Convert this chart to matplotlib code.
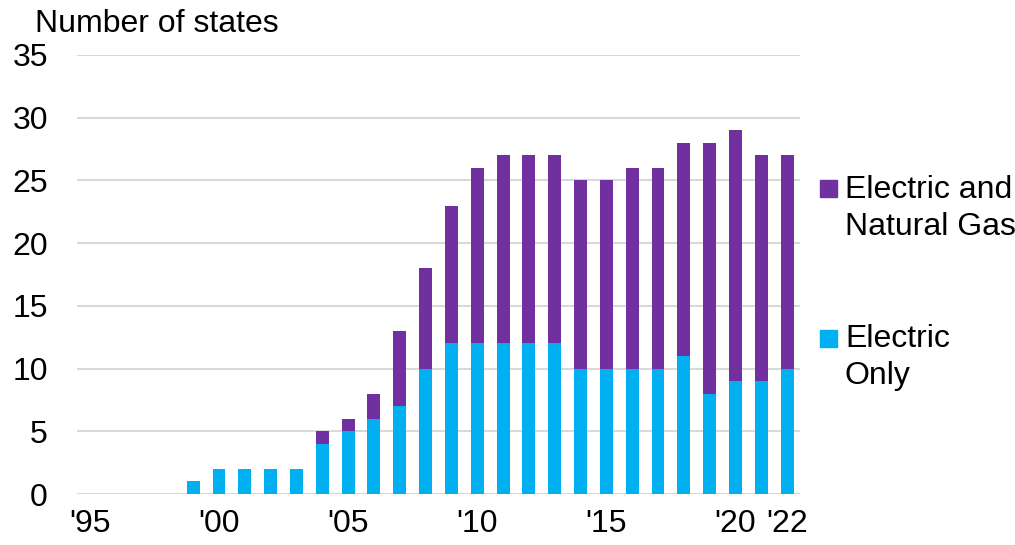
import matplotlib
matplotlib.use("Agg")
import matplotlib.pyplot as plt
from matplotlib.patches import Rectangle

plt.rcParams['font.family'] = ['Liberation Sans', 'DejaVu Sans']

years = list(range(1995, 2023))
electric_only = [0, 0, 0, 0, 1, 2, 2, 2, 2, 4, 5, 6, 7, 10, 12, 12, 12, 12, 12, 10, 10, 10, 10, 11, 8, 9, 9, 10]
electric_gas = [0, 0, 0, 0, 0, 0, 0, 0, 0, 1, 1, 2, 6, 8, 11, 14, 15, 15, 15, 15, 15, 16, 16, 17, 20, 20, 18, 17]
tick_years = [1995, 2000, 2005, 2010, 2015, 2020, 2022]
tick_labels = ["'95", "'00", "'05", "'10", "'15", "'20", "'22"]

BLUE = '#00B0F0'
PURPLE = '#7030A0'
FS = 23

fig = plt.figure(figsize=(10.15, 5.45), dpi=100)
ax = fig.add_axes([77/1015, 1-494/545, (800-77)/1015, (494-55)/545])

x = list(range(len(years)))
ax.bar(x, electric_only, width=0.5, color=BLUE, zorder=3)
ax.bar(x, electric_gas, width=0.5, bottom=electric_only, color=PURPLE, zorder=3)

ax.set_xlim(-0.5, len(years) - 0.5)
ax.set_ylim(0, 35)
ax.set_yticks(range(0, 36, 5))
ax.set_xticks([years.index(y) for y in tick_years])
ax.set_xticklabels(tick_labels)
ax.tick_params(axis='both', length=0, labelsize=FS)
ax.tick_params(axis='y', pad=21)
ax.tick_params(axis='x', pad=11)
for s in ax.spines.values():
    s.set_visible(False)
ax.yaxis.grid(True, color='#D9D9D9', linewidth=1.5, zorder=0)
ax.set_axisbelow(True)

fig.text(35/1015, 1-32/545, 'Number of states', fontsize=FS, ha='left', va='baseline')

# legend
def fy(y):
    return 1 - y/545

fig.add_artist(Rectangle((820/1015, fy(197)), 17/1015, 17/545, transform=fig.transFigure, color=PURPLE))
fig.text(845/1015, fy(198), 'Electric and', fontsize=FS, ha='left', va='baseline')
fig.text(845/1015, fy(235), 'Natural Gas', fontsize=FS, ha='left', va='baseline')
fig.add_artist(Rectangle((820/1015, fy(347)), 17/1015, 17/545, transform=fig.transFigure, color=BLUE))
fig.text(845/1015, fy(347), 'Electric', fontsize=FS, ha='left', va='baseline')
fig.text(845/1015, fy(384), 'Only', fontsize=FS, ha='left', va='baseline')

fig.savefig('out.png', dpi=100)
